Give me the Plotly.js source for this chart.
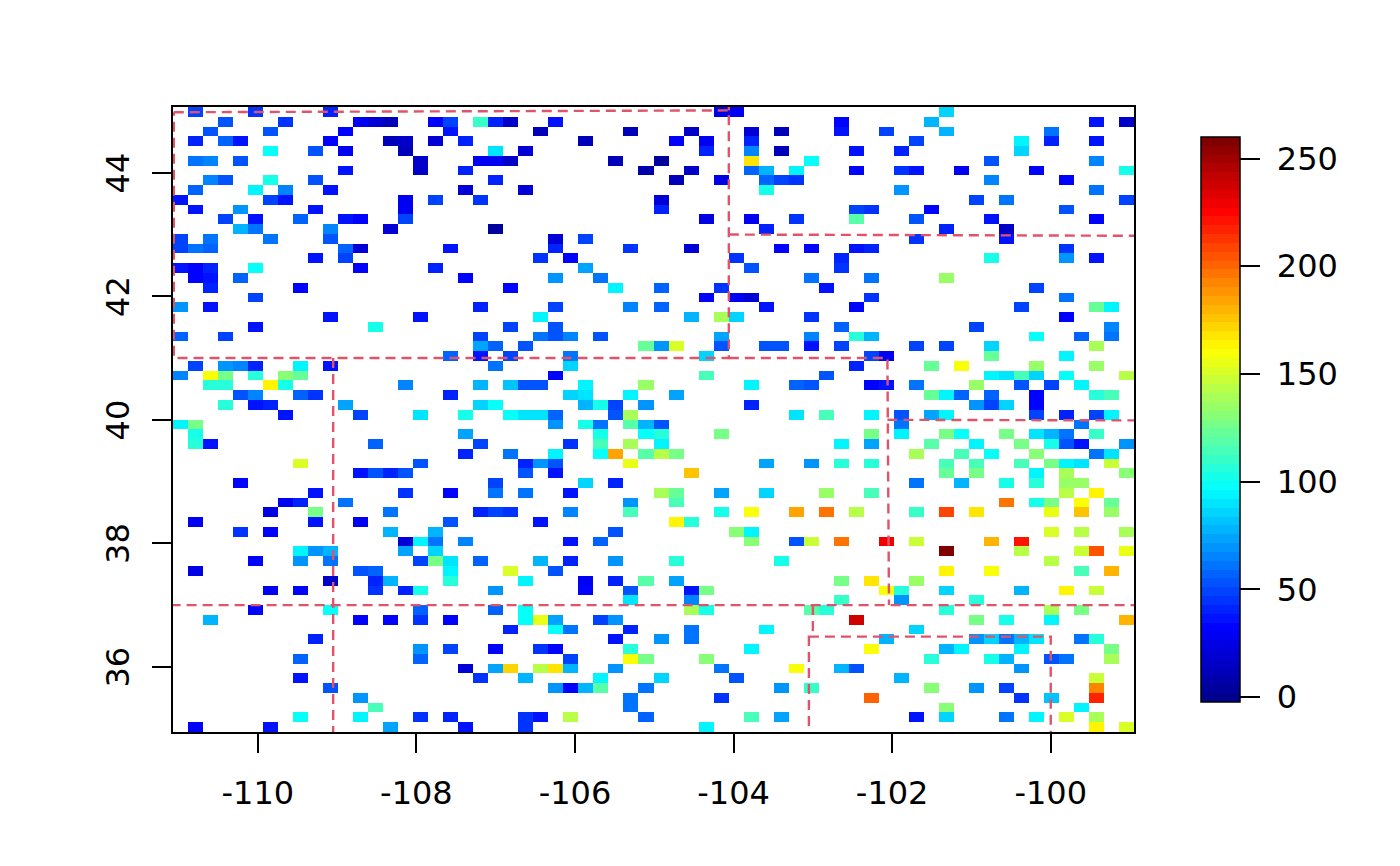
<!DOCTYPE html>
<html>
<head>
<meta charset="utf-8">
<script src="https://cdn.plot.ly/plotly-3.0.1.min.js"></script>
<style>html,body{margin:0;padding:0;background:#fff}#chart{width:1400px;height:866px}</style>
</head>
<body>
<div id="chart"></div>
<script>
// Each row lists column,value pairs; row00 is the top row of the 64x64 grid.
const row00=[1,48,5,44,10,40,36,25,37,30,51,85];
const row01=[3,54,7,46,12,28,13,20,14,12,17,31,18,50,20,112,21,41,22,18,25,38,44,31,50,76,61,36,63,18];
const row02=[2,52,6,52,11,31,18,38,24,14,30,10,34,18,38,20,40,13,44,38,47,48,51,76,58,60];
const row03=[1,42,3,56,4,36,10,31,14,14,15,15,17,22,19,40,27,10,33,33,35,30,38,40,49,49,56,96,58,40,61,36];
const row04=[6,100,9,52,11,27,15,14,21,88,23,20,35,41,38,66,40,14,45,38,48,40,56,86];
const row05=[1,60,2,64,4,52,16,15,20,27,21,30,22,15,29,12,32,5,38,168,42,100,54,52,61,64];
const row06=[11,38,16,16,19,40,31,9,34,18,38,56,39,78,41,92,45,31,48,44,49,38,52,30,57,31,63,104];
const row07=[2,66,3,54,6,104,9,54,21,40,33,10,36,26,39,56,40,48,41,44,54,64,59,33];
const row08=[1,56,5,96,7,66,10,38,19,20,23,20,39,104,48,68,61,60];
const row09=[0,38,6,50,7,38,15,28,17,48,20,44,32,20,53,49,55,63,63,48];
const row10=[1,36,4,70,9,38,15,28,32,40,45,48,46,44,50,31,59,52];
const row11=[3,50,5,38,8,56,11,38,12,33,15,50,35,25,38,30,41,44,45,118,49,55,54,36,61,31];
const row12=[4,76,5,60,10,64,14,20,21,3,39,42,51,42,55,18];
const row13=[0,48,2,60,6,60,10,54,25,22,27,50,49,45,55,38];
const row14=[0,50,1,60,2,56,11,56,12,20,18,36,25,42,30,44,34,20,40,33,42,33,45,38,46,42,59,44];
const row15=[9,38,11,50,24,44,26,33,37,46,44,40,54,104,59,70,61,38];
const row16=[0,38,1,34,2,42,5,100,12,32,17,40,27,72,38,52,44,46];
const row17=[1,33,2,36,4,56,19,32,25,68,28,60,42,60,46,60,51,133];
const row18=[2,42,8,31,22,31,29,92,32,56,36,44,43,36,57,50];
const row19=[5,50,35,33,37,28,38,20,46,44,59,60];
const row20=[0,70,2,38,20,42,25,50,30,64,32,58,39,35,45,32,56,48,61,122,62,92];
const row21=[10,38,16,38,24,92,34,76,36,141,37,85,42,44,59,33];
const row22=[5,36,13,104,22,50,25,54,44,56,53,50,62,64];
const row23=[0,58,3,48,20,48,24,62,25,52,26,64,28,52,36,72,42,64,45,107,46,78,57,100,60,56,62,60];
const row24=[20,72,21,58,23,54,31,122,32,70,33,150,36,55,39,55,40,55,42,36,44,48,49,48,51,48,54,85,61,141];
const row25=[18,56,20,38,22,48,26,60,35,85,46,48,47,30,54,122,59,92];
const row26=[1,50,3,68,4,64,5,42,8,92,10,36,21,60,26,85,45,42,50,122,52,160,57,133,61,133];
const row27=[0,64,2,160,3,126,5,106,7,130,8,122,25,31,35,114,43,52,54,96,55,88,56,116,57,85,59,100,63,142];
const row28=[2,106,3,106,6,163,7,104,15,64,20,76,22,80,23,52,24,55,27,92,31,134,38,96,41,56,42,52,46,31,47,36,49,62,53,134,56,55,58,48,60,92];
const row29=[4,52,5,64,8,56,9,44,18,40,26,85,27,90,30,96,33,72,50,122,51,92,52,56,54,58,57,33,61,108,62,116];
const row30=[3,106,5,36,6,42,11,72,20,85,21,100,27,78,28,104,29,50,31,68,38,42,53,68,54,48,55,85,57,33];
const row31=[7,36,12,48,16,88,19,104,22,100,23,88,24,88,25,58,29,54,30,138,41,88,43,114,46,96,48,54,50,72,51,96,57,50,59,42,61,50,62,92];
const row32=[0,96,1,126,25,68,27,104,28,60,30,118,31,76,32,54,48,60,60,60];
const row33=[1,104,19,72,28,104,31,98,32,108,36,126,46,128,48,92,51,125,52,100,55,126,57,90,58,76,59,60,61,112];
const row34=[1,108,2,38,13,56,20,48,26,44,28,114,30,138,32,92,44,92,46,72,50,118,53,96,56,126,58,104,59,52,60,38,63,70];
const row35=[19,40,22,60,25,92,28,98,29,184,31,118,32,142,33,126,49,138,52,114,54,98,57,132,61,62,62,90];
const row36=[8,150,16,52,23,42,24,68,25,52,30,155,39,72,42,68,44,108,46,108,51,114,53,116,56,114,58,126,59,96,60,90,62,146];
const row37=[12,38,13,54,14,42,15,52,23,54,25,36,34,178,51,122,53,125,57,96,59,140,63,130];
const row38=[4,31,21,48,27,85,29,42,49,60,52,78,55,104,57,108,59,134,60,134];
const row39=[9,36,15,44,18,31,21,60,23,62,26,38,32,138,33,122,36,72,39,85,43,134,46,114,59,142,61,163];
const row40=[7,30,8,42,11,60,30,68,33,116,55,196,57,104,58,128,60,160,62,122];
const row41=[6,26,9,125,14,60,20,42,21,48,22,44,26,64,30,116,36,104,38,160,41,184,43,196,45,142,49,112,51,208,53,168,58,155,60,176,62,134];
const row42=[1,28,9,38,12,30,18,54,24,38,33,163,34,108];
const row43=[4,44,6,31,14,78,17,78,29,54,37,130,38,92,58,150,60,142,63,138];
const row44=[15,20,16,96,17,60,19,64,26,36,28,56,38,132,41,52,42,146,44,195,47,229,49,146,54,180,56,220];
const row45=[8,96,9,70,10,76,15,72,17,85,51,260,56,142,60,146,61,204,63,155];
const row46=[5,33,8,68,10,62,16,50,17,128,18,90,20,56,24,78,26,42,29,68,33,108,40,104,58,142];
const row47=[1,26,12,54,13,56,18,96,22,150,25,52,51,163,54,160,60,116,62,180];
const row48=[10,18,13,42,14,78,18,108,23,96,27,28,29,42,31,118,33,72,44,126,46,168,49,134];
const row49=[6,30,8,31,13,44,15,42,16,104,21,68,27,33,30,52,34,36,35,128,47,160,48,108,51,86,56,76,59,163,61,146];
const row50=[30,90,34,64,44,112,48,68,53,108];
const row51=[5,33,10,100,16,56,21,56,23,98,34,140,35,104,42,118,43,106,51,106,58,140,60,125];
const row52=[2,78,12,31,14,31,16,44,18,33,23,100,24,155,25,72,28,48,29,68,45,236,53,128,55,104,58,92,63,180];
const row53=[22,42,25,100,26,62,30,42,34,60,39,96,49,86];
const row54=[9,42,29,38,32,68,34,60,47,78,53,70,54,85,55,62,56,76,57,90,60,60,61,108];
const row55=[16,70,18,50,21,33,24,44,25,33,30,108,38,96,46,160,51,78,52,96,56,96,62,125];
const row56=[8,56,16,56,26,50,30,160,31,125,35,132,50,108,54,104,55,76,58,52,59,60,62,141];
const row57=[19,22,21,72,22,172,24,142,25,168,26,78,29,68,36,60,41,160,44,78,45,52,56,68];
const row58=[8,36,20,44,23,78,28,96,32,85,37,52,48,78,61,146];
const row59=[10,52,25,68,26,33,27,76,28,118,31,60,40,70,42,112,50,132,53,68,55,48,61,192];
const row60=[12,68,30,62,36,44,46,200,56,44,58,82,61,218];
const row61=[13,116,30,60,51,132,60,96];
const row62=[8,100,12,96,16,44,18,42,23,44,24,36,26,142,31,56,38,116,40,72,49,36,51,85,55,60,57,92,59,150,61,141];
const row63=[1,31,6,38,14,72,19,38,23,44,35,92,61,163,63,150];
const rows=[row00,row01,row02,row03,row04,row05,row06,row07,row08,row09,row10,row11,row12,row13,row14,row15,
row16,row17,row18,row19,row20,row21,row22,row23,row24,row25,row26,row27,row28,row29,row30,row31,
row32,row33,row34,row35,row36,row37,row38,row39,row40,row41,row42,row43,row44,row45,row46,row47,
row48,row49,row50,row51,row52,row53,row54,row55,row56,row57,row58,row59,row60,row61,row62,row63];

const xTickVals=[-110,-108,-106,-104,-102,-100];
const xTickText=['-110','-108','-106','-104','-102','-100'];
const yTickVals=[36,38,40,42,44];
const yTickText=['36\u00A0','38\u00A0','40\u00A0','42\u00A0','44\u00A0'];
const barTickVals=[0,50,100,150,200,250];
const barTickText=['\u00A00','\u00A050','\u00A0100','\u00A0150','\u00A0200','\u00A0250'];

// State borders
const wyLon=[-111.06,-104.06,-104.06,-111.06,-111.06];
const wyLat=[44.98,45.01,41,41,44.98];
const mtLon=[-104.06,-104.06];
const mtLat=[45.01,45.09];
const sdLon=[-104.06,-98.9];
const sdLat=[43.0,42.98];
const neLon=[-104.06,-102.06,-102.04];
const neLat=[41,41,37];
const ksLon=[-102.06,-98.9];
const ksLat=[40,39.99];
const utLon=[-109.05,-109.05];
const utLat=[41,34.9];
const nmLon=[-111.1,-98.9];
const nmLat=[37,37];
const okLon=[-103,-103,-103.05,-103.05];
const okLat=[37,36.6,36.5,34.9];
const txLon=[-103.05,-100,-100];
const txLat=[36.49,36.49,34.9];

const xLow=-111.07, xHigh=-98.95, yLow=34.945, yHigh=45.065, nGrid=64;
const zLow=-2.3, zHigh=260;

const z=[];
for(let i=0;i<nGrid;i++){z.push(new Array(nGrid).fill(null));}
rows.forEach((r,idx)=>{
  for(let k=0;k<r.length;k+=2){ z[nGrid-1-idx][r[k]]=r[k+1]; }
});

// 64-level stepped jet palette
const anchors=[[0,[0,0,143]],[0.125,[0,0,255]],[0.375,[0,255,255]],[0.625,[255,255,0]],[0.875,[255,0,0]],[1,[128,0,0]]];
function jet(t){
  for(let i=1;i<anchors.length;i++){
    if(t<=anchors[i][0]){
      const a=anchors[i-1],b=anchors[i],f=(t-a[0])/(b[0]-a[0]);
      return 'rgb('+a[1].map((c,j)=>Math.round(c+(b[1][j]-c)*f)).join(',')+')';
    }
  }
  return 'rgb(128,0,0)';
}
const scale=[];
for(let i=0;i<64;i++){
  const c=jet(i/63);
  scale.push([i/64,c]);
  scale.push([(i+1)/64,c]);
}

const dx=(xHigh-xLow)/nGrid, dy=(yHigh-yLow)/nGrid;
const fontFam='"DejaVu Sans", sans-serif';
const heat={
  type:'heatmap', z:z, x0:xLow+dx/2, dx:dx, y0:yLow+dy/2, dy:dy,
  zmin:zLow, zmax:zHigh, zsmooth:false, colorscale:scale, hoverongaps:false,
  colorbar:{
    x:(1201-173)/961, xanchor:'left', y:1-(137-107)/625, yanchor:'top',
    thickness:39, thicknessmode:'pixels', len:565, lenmode:'pixels',
    xpad:0, ypad:0, outlinecolor:'#000', outlinewidth:1.5, borderwidth:0,
    tickmode:'array', tickvals:barTickVals, ticktext:barTickText,
    ticks:'outside', ticklen:20, tickwidth:2, tickcolor:'#000',
    tickfont:{family:fontFam,size:32,color:'#000'}
  }
};
const border=(x,y)=>({type:'scatter',mode:'lines',x:x,y:y,hoverinfo:'skip',showlegend:false,
  line:{color:'#DF536B',width:2.4,dash:'10px,6px'}});
const traces=[heat,border(wyLon,wyLat),border(mtLon,mtLat),border(sdLon,sdLat),border(neLon,neLat),
  border(ksLon,ksLat),border(utLon,utLat),border(nmLon,nmLat),border(okLon,okLat),border(txLon,txLat)];

const axisBase={showgrid:false,zeroline:false,showline:true,mirror:true,linecolor:'#000',linewidth:2,
  ticks:'outside',ticklen:19,tickwidth:2,tickcolor:'#000',tickmode:'array',
  tickfont:{family:fontFam,size:32,color:'#000'}};
const layout={
  width:1400,height:866,paper_bgcolor:'#fff',plot_bgcolor:'#fff',showlegend:false,
  margin:{l:173,r:266,t:107,b:134,pad:0},
  xaxis:Object.assign({},axisBase,{range:[xLow,xHigh],tickvals:xTickVals,ticktext:xTickText,ticklabelstandoff:13}),
  yaxis:Object.assign({},axisBase,{range:[yLow,yHigh],tickvals:yTickVals,ticktext:yTickText,tickangle:-90,ticklabelstandoff:10})
};
Plotly.newPlot('chart',traces,layout,{displayModeBar:false,responsive:false});
</script>
</body>
</html>
